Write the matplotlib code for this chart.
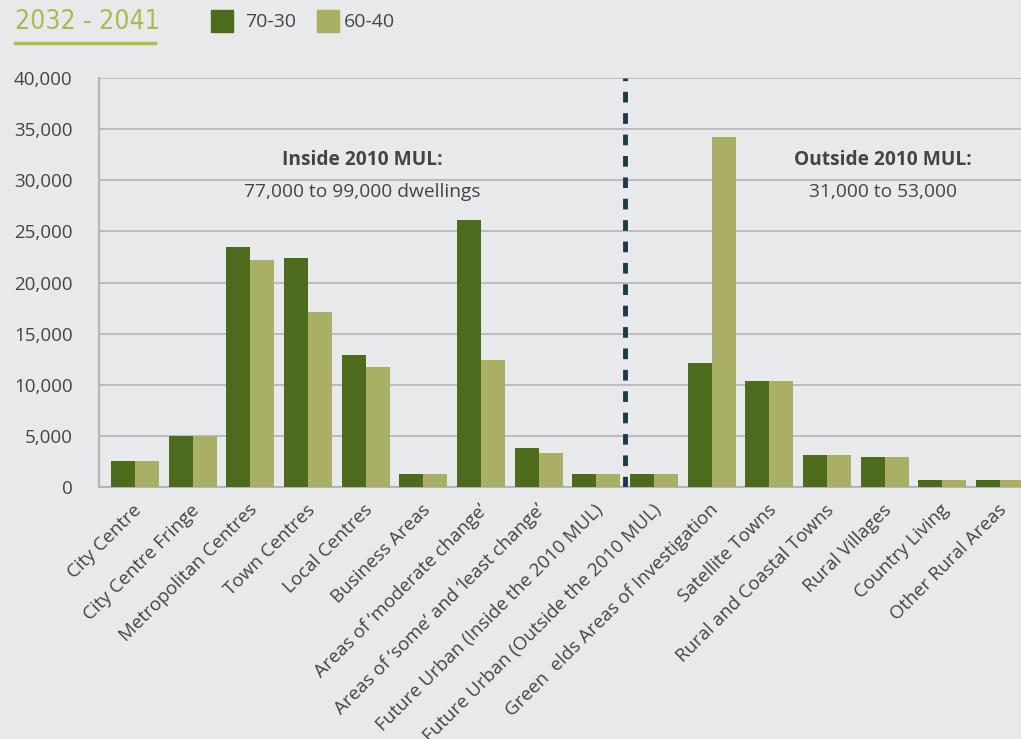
"""
2032 - 2041 dwellings chart: 70-30 vs 60-40 scenarios
"""
import matplotlib
matplotlib.use("Agg")
import matplotlib.pyplot as plt
import numpy as np
from matplotlib.ticker import FuncFormatter

plt.rcParams["font.family"] = ["Open Sans", "DejaVu Sans"]

categories = [
    "City Centre", "City Centre Fringe", "Metropolitan Centres", "Town Centres",
    "Local Centres", "Business Areas", "Areas of \u2018moderate change\u2019",
    "Areas of \u2018some\u2019 and \u2018least change\u2019",
    "Future Urban (Inside the 2010 MUL)", "Future Urban (Outside the 2010 MUL)",
    "Green  elds Areas of Investigation", "Satellite Towns", "Rural and Coastal Towns",
    "Rural Villages", "Country Living", "Other Rural Areas",
]
s70_30 = [2500, 5000, 23500, 22400, 12900, 1300, 26100, 3800,
          1300, 1300, 12100, 10400, 3100, 2900, 700, 700]
s60_40 = [2500, 5000, 22200, 17100, 11700, 1300, 12400, 3300,
          1300, 1300, 34200, 10400, 3100, 2900, 700, 700]
yticks = [0, 5000, 10000, 15000, 20000, 25000, 30000, 35000, 40000]

BG = "#e8e9eb"
DARK = "#4d6b1c"
LIGHT = "#a9b066"
TXT = "#444444"
GRID = "#b4b4b6"

W, H = 1021, 739
fig = plt.figure(figsize=(W / 100, H / 100), dpi=100, facecolor=BG)
ax = fig.add_axes([99 / W, 1 - 487 / H, 1 - 99 / W, (487 - 78) / H])
ax.set_facecolor(BG)

x = np.arange(len(categories))
bw = 0.415
ax.bar(x - bw / 2, s70_30, bw, color=DARK, zorder=3)
ax.bar(x + bw / 2, s60_40, bw, color=LIGHT, zorder=3)

ax.set_ylim(0, 40000)
ax.set_xlim(-0.625, 15.365)
ax.set_yticks(yticks)
ax.yaxis.set_major_formatter(FuncFormatter(lambda v, p: f"{int(v):,}"))
ax.grid(axis="y", color=GRID, linewidth=1.2, zorder=0)
ax.tick_params(axis="y", length=0, pad=19, labelsize=13.5, labelcolor=TXT)
ax.tick_params(axis="x", length=0, pad=10)
for s in ["top", "right"]:
    ax.spines[s].set_visible(False)
for s in ["left", "bottom"]:
    ax.spines[s].set_color(GRID)
    ax.spines[s].set_linewidth(1.5)

ax.set_xticks(x - 0.04)
ax.set_xticklabels(categories, rotation=45, ha="right", va="top",
                   rotation_mode="anchor", fontsize=13.5, color=TXT)

# divider between inside / outside MUL
ax.axvline(8.5, color="#1a3a4a", linewidth=3.5, linestyle=(0, (2.2, 2.2)), zorder=4)

ax.text(3.94, 31980, "Inside 2010 MUL:", ha="center", va="center",
        fontsize=13.8, fontweight="bold", color=TXT)
ax.text(3.94, 28850, "77,000 to 99,000 dwellings", ha="center", va="center",
        fontsize=13.8, color=TXT)
ax.text(12.97, 31980, "Outside 2010 MUL:", ha="center", va="center",
        fontsize=13.8, fontweight="bold", color=TXT)
ax.text(12.97, 28850, "31,000 to 53,000", ha="center", va="center",
        fontsize=13.8, color=TXT)

# header
fig.text(15 / W, 1 - 22 / H, "2032 - 2041", ha="left", va="center", fontsize=19,
         color="#a9bb4f", family="DejaVu Sans", stretch="condensed")
fig.add_artist(plt.Line2D([15 / W, 155 / W], [1 - 43 / H, 1 - 43 / H],
                          color="#b0c050", linewidth=2.5))
fig.add_artist(plt.Rectangle((211 / W, 1 - 32 / H), 22 / W, 22 / H, color=DARK))
fig.text(245 / W, 1 - 22 / H, "70-30", ha="left", va="center", fontsize=14, color=TXT)
fig.add_artist(plt.Rectangle((317 / W, 1 - 32 / H), 22 / W, 22 / H, color=LIGHT))
fig.text(344 / W, 1 - 22 / H, "60-40", ha="left", va="center", fontsize=14, color=TXT)

plt.savefig("out.png", dpi=100, facecolor=BG)
plt.close()
